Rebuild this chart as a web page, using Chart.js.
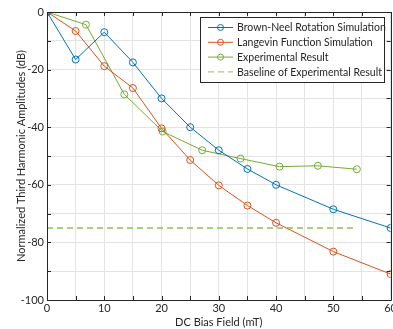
<!DOCTYPE html>
<html>
<head>
<meta charset="utf-8">
<script src="https://cdn.jsdelivr.net/npm/chart.js@4.4.1/dist/chart.umd.min.js"></script>
<style>
  html, body { margin: 0; padding: 0; background: #fff; overflow: hidden; }
  #wrap { position: relative; width: 399px; height: 329px; }
</style>
</head>
<body>
<div id="wrap"><canvas id="chart"></canvas></div>
<script>
// DC bias field (mT) for the simulations
const simField = [0, 5, 10, 15, 20, 25, 30, 35, 40, 50, 60];
const brownNeel = [0, -16.5, -7, -17.5, -30, -40, -48, -54.5, -60, -68.5, -75];
const langevin = [0, -6.6, -18.8, -26.4, -40.4, -51.4, -60.2, -67.2, -73.2, -83.2, -91];

// measured points
const expField = [0, 6.8, 13.5, 20.2, 27.1, 33.8, 40.6, 47.3, 54.1];
const expValue = [0, -4.4, -28.6, -41.5, -48, -50.9, -53.7, -53.4, -54.6];

const baselineField = [0, 54];
const baselineLevel = -75;

const seriesLabels = [
  'Brown-Neel Rotation Simulation',
  'Langevin Function Simulation',
  'Experimental Result',
  'Baseline of Experimental Result'
];
const seriesColors = ['#0072BD', '#D95319', '#77AC30', '#8DC158'];

const FONT = 'Lato, "Open Sans", sans-serif';
const AXIS = '#262626';

function pts(xs, ys) {
  return xs.map((x, i) => ({ x: x, y: Array.isArray(ys) ? ys[i] : ys }));
}

function lineSet(i, data) {
  return {
    label: seriesLabels[i],
    data: data,
    borderColor: seriesColors[i],
    backgroundColor: 'rgba(0,0,0,0)',
    borderWidth: 1,
    pointRadius: 3.5,
    pointBorderWidth: 1,
    pointBackgroundColor: 'rgba(0,0,0,0)',
    pointBorderColor: seriesColors[i],
    tension: 0
  };
}

// box frame, inward tick marks and the in-plot legend
const frameAndLegend = {
  id: 'frameAndLegend',
  afterDraw(chart) {
    const ctx = chart.ctx;
    const a = chart.chartArea;
    const xs = chart.scales.x, ys = chart.scales.y;
    ctx.save();
    ctx.strokeStyle = AXIS;
    ctx.lineWidth = 1;
    ctx.beginPath();
    ctx.rect(Math.round(a.left) + 0.5, Math.round(a.top) + 0.5,
      Math.round(a.right - a.left), Math.round(a.bottom - a.top));
    ctx.stroke();

    const len = 4;
    ctx.beginPath();
    xs.ticks.forEach(t => {
      const px = Math.round(xs.getPixelForValue(t.value)) + 0.5;
      ctx.moveTo(px, a.bottom); ctx.lineTo(px, a.bottom - len);
      ctx.moveTo(px, a.top); ctx.lineTo(px, a.top + len);
    });
    ys.ticks.forEach(t => {
      const py = Math.round(ys.getPixelForValue(t.value)) + 0.5;
      ctx.moveTo(a.left, py); ctx.lineTo(a.left + len, py);
      ctx.moveTo(a.right, py); ctx.lineTo(a.right - len, py);
    });
    ctx.stroke();

    // legend
    const bx = 200.5, by = 17.5, bw = 184, bh = 65;
    ctx.fillStyle = '#fff';
    ctx.fillRect(bx, by, bw, bh);
    ctx.strokeStyle = AXIS;
    ctx.strokeRect(bx, by, bw, bh);
    ctx.font = '10.5px ' + FONT;
    ctx.textBaseline = 'middle';
    ctx.textAlign = 'left';
    chart.data.datasets.forEach((ds, i) => {
      const yy = 27.5 + i * 14.8;
      ctx.strokeStyle = ds.borderColor;
      ctx.lineWidth = 1;
      ctx.setLineDash(ds.borderDash || []);
      ctx.beginPath();
      ctx.moveTo(208, yy); ctx.lineTo(233, yy);
      ctx.stroke();
      ctx.setLineDash([]);
      if (ds.pointRadius > 0) {
        ctx.beginPath();
        ctx.arc(220.5, yy, 3, 0, Math.PI * 2);
        ctx.stroke();
      }
      ctx.fillStyle = AXIS;
      ctx.fillText(ds.label, 237, yy + 0.5);
    });
    ctx.restore();
  }
};

new Chart(document.getElementById('chart'), {
  type: 'line',
  data: {
    datasets: [
      lineSet(0, pts(simField, brownNeel)),
      lineSet(1, pts(simField, langevin)),
      lineSet(2, pts(expField, expValue)),
      {
        label: seriesLabels[3],
        data: pts(baselineField, baselineLevel),
        borderColor: seriesColors[3],
        borderWidth: 1.3,
        borderDash: [6, 4],
        pointRadius: 0,
        fill: false
      }
    ]
  },
  options: {
    responsive: true,
    maintainAspectRatio: false,
    animation: false,
    layout: { padding: { top: 12, left: 0, right: 0, bottom: 0 } },
    plugins: {
      legend: { display: false },
      tooltip: { enabled: false }
    },
    scales: {
      x: {
        type: 'linear',
        min: 0,
        max: 60,
        afterFit: s => { s.height = 29; },
        ticks: {
          stepSize: 5,
          autoSkip: false,
          maxRotation: 0,
          padding: 2,
          color: AXIS,
          font: { family: FONT, size: 11 },
          callback: v => (v % 10 === 0 ? v : '')
        },
        grid: { color: '#e3e3e3', drawTicks: false },
        border: { display: false },
        title: {
          display: true,
          text: 'DC Bias Field (mT)',
          color: AXIS,
          font: { family: FONT, size: 11 },
          padding: { top: 1, bottom: 0 }
        }
      },
      y: {
        min: -100,
        max: 0,
        afterFit: s => { s.width = 47; },
        ticks: {
          stepSize: 10,
          autoSkip: false,
          padding: 3,
          color: AXIS,
          font: { family: FONT, size: 11 },
          callback: v => (v % 20 === 0 ? v : '')
        },
        grid: { color: '#e3e3e3', drawTicks: false },
        border: { display: false },
        title: {
          display: true,
          text: 'Normalized Third Harmonic Amplitudes (dB)',
          color: AXIS,
          font: { family: FONT, size: 11 },
          padding: { top: 15, bottom: 0 }
        }
      }
    }
  },
  plugins: [frameAndLegend]
});
</script>
</body>
</html>
